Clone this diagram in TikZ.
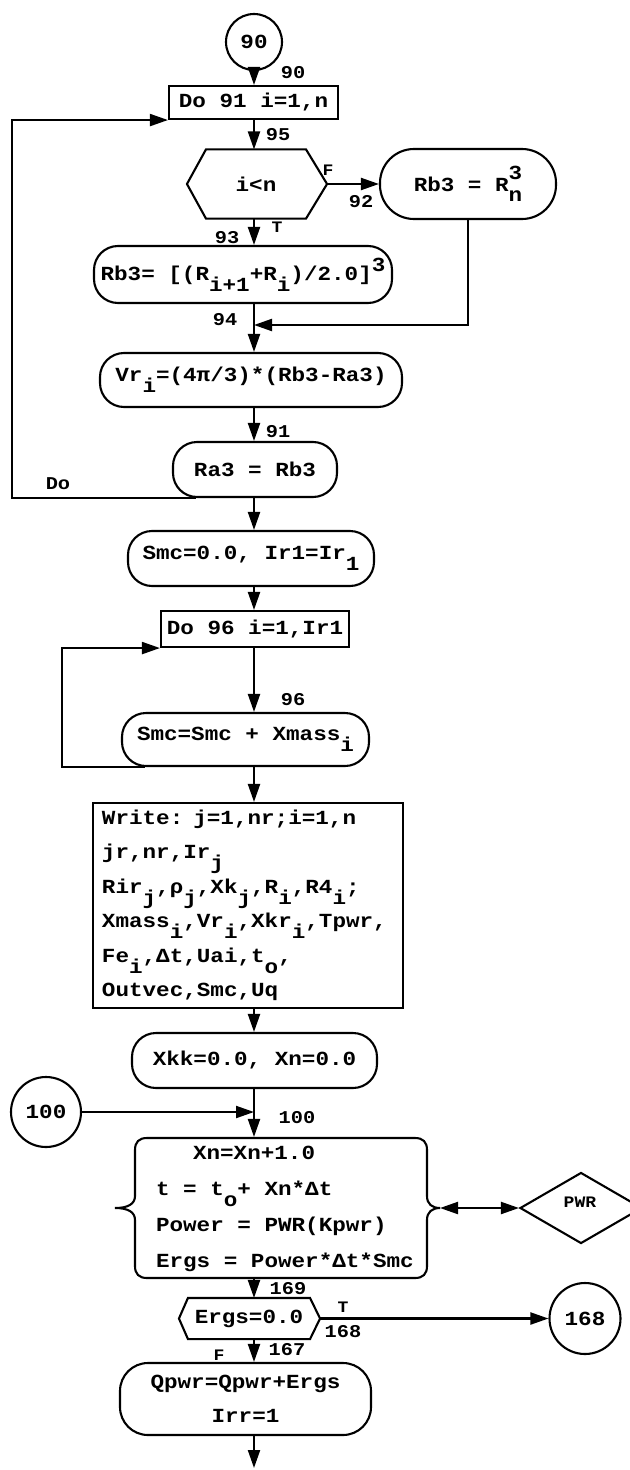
\documentclass[tikz,border=0pt]{standalone}
\usepackage{fontspec}
\newfontfamily\tw{Liberation Mono}[FakeStretch=1.13]
\usetikzlibrary{arrows.meta,shapes.geometric}
\newcommand\dn[1]{\raisebox{-0.55em}{#1}}
\newcommand\up[1]{\raisebox{0.45em}{#1}}
\newcommand\ud[2]{\rlap{\raisebox{0.6em}{#1}}\raisebox{-0.5em}{#2}}
\begin{document}
\begin{tikzpicture}[x=1bp,y=-1bp,line width=2.1bp,
  every node/.style={font=\tw\bfseries\fontsize{20bp}{34.5bp}\selectfont, inner sep=0pt},
  proc/.style={draw, rounded corners=24bp},
  rect/.style={draw},
  conn/.style={draw, circle},
  lbl/.style={font=\tw\bfseries\fontsize{18bp}{20bp}\selectfont},
  tf/.style={font=\tw\bfseries\fontsize{16bp}{18bp}\selectfont},
  arr/.style={-{Triangle[length=18bp,width=12bp]}},
  darr/.style={{Triangle[length=18bp,width=12bp]}-{Triangle[length=18bp,width=12bp]}}
]
\useasboundingbox (0,0) rectangle (630,1470);
\clip (0,0) rectangle (630,1470);
\coordinate (sp) at (254,0);
\coordinate (lp1) at (12,0);
\coordinate (lp2) at (62,0);

% ---- top part
\node[conn, minimum size=56bp] (c90) at (254,42) {90};
\node[lbl] (l90) at (293,73) {90};
\node[rect, minimum width=169bp, minimum height=33bp] (do91) at (253.5,102.5) {Do 91 i=1,n};
\draw[arr] (c90.south) -- (c90.south |- do91.north);

\node[minimum width=98bp, minimum height=67bp] (h1) at (256,184) {i<n};
\coordinate (h1r) at ([xshift=21bp]h1.east);
\coordinate (h1l) at ([xshift=-19bp]h1.west);
\draw (h1.north west) -- (h1.north east) -- (h1r) -- (h1.south east) -- (h1.south west) -- (h1l) -- cycle;
\draw[arr] (do91.south -| sp) -- (h1.north -| sp);
\node[lbl] (l95) at (278,135) {95};

\node[proc, rounded corners=34bp, minimum width=176bp, minimum height=70bp] (rb3n) at (468,184) {Rb3 = R\ud{3}{n}};
\draw[arr] (h1r) -- (rb3n.west);
\node[tf] (lF1) at (328,170) {F};
\node[lbl] (l92) at (361,202) {92};

\node[proc, minimum width=298bp, minimum height=57bp] (rb3a) at (243,274.5) {Rb3= [(R\dn{i+1}+R\dn{i})/2.0]\up{3}};
\draw[arr] (h1.south -| sp) -- (rb3a.north -| sp);
\node[tf] (lT1) at (277,227) {T};
\node[lbl] (l93) at (227,238) {93};

\node[proc, minimum width=302bp, minimum height=54bp] (vr) at (251,380) {Vr\dn{i}=(4π/3)*(Rb3-Ra3)};
\coordinate (m94) at (254,325);
\draw[arr] (rb3a.south -| sp) -- (vr.north -| sp);
\draw[arr] (rb3n.south) |- (m94);
\node[lbl] (l94) at (225,320) {94};

\node[proc, minimum width=164bp, minimum height=55bp] (ra3) at (255,469.5) {Ra3 = Rb3};
\draw[arr] (vr.south -| sp) -- (ra3.north -| sp);
\node[lbl] (l91) at (278,432) {91};

\draw[arr] ([xshift=24bp]ra3.south west) -- (lp1 |- ra3.south) |- (do91.south west);
\node[lbl] (ldo) at (58,484) {Do};

% ---- middle part
\node[proc, minimum width=246bp, minimum height=55bp] (smc0) at (251,558.5) {Smc=0.0, Ir1=Ir\dn{1}};
\draw[arr] (ra3.south -| sp) -- (smc0.north -| sp);

\node[rect, minimum width=188bp, minimum height=36bp] (do96) at (255,629) {Do 96 i=1,Ir1};
\draw[arr] (smc0.south -| sp) -- (do96.north -| sp);

\node[proc, minimum width=247bp, minimum height=53bp] (smcx) at (245.5,739.5) {Smc=Smc + Xmass\dn{i}};
\draw[arr] (do96.south -| sp) -- (smcx.north -| sp);
\node[lbl] (l96) at (293,700) {96};
\draw[arr] ([xshift=24bp]smcx.south west) -- (lp2 |- smcx.south) |- (do96.south west);

\node[rect, minimum width=310bp, minimum height=205bp, text width=292bp, align=left] (write) at (248,905.5)
 {Write: j=1,nr;i=1,n\\
  jr,nr,Ir\dn{j}\\
  Rir\dn{j},ρ\dn{j},Xk\dn{j},R\dn{i},R4\dn{i};\\
  Xmass\dn{i},Vr\dn{i},Xkr\dn{i},Tpwr,\\
  Fe\dn{i},Δt,Uai,t\dn{o},\\
  Outvec,Smc,Uq};
\draw[arr] (smcx.south -| sp) -- (write.north -| sp);

\node[proc, minimum width=245bp, minimum height=55bp] (xkk) at (254.5,1060.5) {Xkk=0.0, Xn=0.0};
\draw[arr] (write.south -| sp) -- (xkk.north -| sp);

% ---- lower part
\node[conn, minimum size=70bp] (c100) at (46,1112) {100};
\node[minimum width=292bp, minimum height=140bp] (bx) at (281,1208) {};
\draw (147,1138) -- (415,1138) .. controls (423,1138) and (427,1142) .. (427,1150)
  -- (427,1196) .. controls (427,1204) and (432,1208) .. (440,1208)
  .. controls (432,1208) and (427,1212) .. (427,1220)
  -- (427,1266) .. controls (427,1274) and (423,1278) .. (415,1278)
  -- (147,1278) .. controls (139,1278) and (135,1274) .. (135,1266)
  -- (135,1220) .. controls (135,1212) and (128,1208) .. (115,1208)
  .. controls (128,1208) and (135,1204) .. (135,1196)
  -- (135,1150) .. controls (135,1142) and (139,1138) .. (147,1138) -- cycle;
\coordinate (bxr) at (440,1208);
\node[anchor=west, align=left, font=\tw\bfseries\fontsize{20bp}{36bp}\selectfont] (bxt) at (155,1209)
 {\hspace{37bp}Xn=Xn+1.0\\
  t = t\dn{o}+ Xn*Δt\\
  Power = PWR(Kpwr)\\
  Ergs = Power*Δt*Smc};
\draw[arr] (xkk.south -| sp) -- (bx.north -| sp);
\draw[arr] (c100.east) -- (c100.east -| sp);
\node[lbl] (l100) at (297,1118) {100};

\node[diamond, draw, minimum width=122bp, minimum height=71bp] (pwr) at (581,1208) {};
\node[tf] (pwrt) at (580,1202) {PWR};
\draw[darr] (bxr) -- (pwr.west);

\node[minimum width=120bp, minimum height=39bp] (h2) at (249,1318.5) {Ergs=0.0};
\coordinate (h2r) at ([xshift=10bp]h2.east);
\coordinate (h2l) at ([xshift=-9bp]h2.west);
\draw (h2.north west) -- (h2.north east) -- (h2r) -- (h2.south east) -- (h2.south west) -- (h2l) -- cycle;
\draw[arr] (bx.south -| sp) -- (h2.north -| sp);
\node[lbl] (l169) at (288,1289) {169};

\node[conn, minimum size=71bp] (c168) at (585,1318.5) {168};
\draw[arr] (h2r) -- (c168.west);
\node[tf] (lT2) at (343,1307) {T};
\node[lbl] (l168) at (343,1332) {168};

\node[proc, rounded corners=28bp, minimum width=251bp, minimum height=72bp, align=center] (qpwr) at (245.5,1399) {Qpwr=Qpwr+Ergs\\Irr=1};
\draw[arr] (h2.south -| sp) -- (qpwr.north -| sp);
\node[tf] (lF2) at (219,1355) {F};
\node[lbl] (l167) at (287,1350) {167};

\coordinate (endc) at (254,1468);
\draw[arr] (qpwr.south -| sp) -- (endc);
\end{tikzpicture}
\end{document}
